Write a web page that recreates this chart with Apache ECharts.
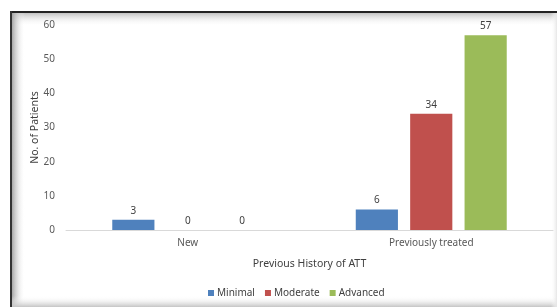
<!DOCTYPE html>
<html><head><meta charset="utf-8">
<script src="https://cdn.jsdelivr.net/npm/echarts@6/dist/echarts.min.js"></script>
<style>html,body{margin:0;padding:0;background:#fff}#c{width:557px;height:307px}</style>
</head><body><div id="c"></div>
<script>
const categories = ['New', 'Previously treated'];
const minimal = [3, 6];
const moderate = [0, 34];
const advanced = [0, 57];
const seriesNames = ['Minimal', 'Moderate', 'Advanced'];
const yTicks = [0, 10, 20, 30, 40, 50, 60];

const chart = echarts.init(document.getElementById('c'), null, {renderer: 'canvas'});
const font = 'Noto Sans';
const lbl = {show: true, position: 'top', color: '#404040', fontSize: 10, fontFamily: font, distance: 4};
function mk(name, data, color) {
  return {name, type: 'bar', data, itemStyle: {color}, label: lbl, barGap: '29%', barCategoryGap: '38%'};
}
chart.setOption({
  animation: false,
  textStyle: {fontFamily: font},
  grid: {left: 66, right: 4, top: 25, bottom: 77, containLabel: false},
  xAxis: {
    type: 'category', data: categories,
    axisLine: {lineStyle: {color: '#D9D9D9'}}, axisTick: {show: false},
    axisLabel: {color: '#595959', fontSize: 10, fontFamily: font, margin: 8},
    name: 'Previous History of ATT', nameLocation: 'middle', nameGap: 29, nameMoveOverlap: false,
    nameTextStyle: {color: '#404040', fontSize: 10.5, fontFamily: font}
  },
  yAxis: {
    type: 'value', min: yTicks[0], max: yTicks[yTicks.length - 1], interval: 10,
    splitLine: {show: false}, axisLine: {show: false}, axisTick: {show: false},
    axisLabel: {color: '#595959', fontSize: 10, fontFamily: font, margin: 11},
    name: 'No. of Patients', nameLocation: 'middle', nameGap: 25, nameRotate: 90, nameMoveOverlap: false,
    nameTextStyle: {color: '#404040', fontSize: 10.5, fontFamily: font}
  },
  legend: {
    data: seriesNames, bottom: 4, left: 203, itemWidth: 6, itemHeight: 6, itemGap: 10,
    icon: 'rect', textStyle: {color: '#404040', fontSize: 10, fontFamily: font, padding: [0, 0, 0, -2]}
  },
  series: [mk(seriesNames[0], minimal, '#4F81BD'), mk(seriesNames[1], moderate, '#C0504D'), mk(seriesNames[2], advanced, '#9BBB59')],
  graphic: [
    {type: 'rect', z: -1, shape: {x: 11, y: 12, width: 546, height: 14},
     style: {fill: new echarts.graphic.LinearGradient(0, 0, 0, 1, [{offset: 0, color: '#b8b8b8'}, {offset: 1, color: 'rgba(255,255,255,0)'}])}},
    {type: 'rect', z: -1, shape: {x: 11, y: 12, width: 14, height: 295},
     style: {fill: new echarts.graphic.LinearGradient(0, 0, 1, 0, [{offset: 0, color: '#999'}, {offset: 1, color: 'rgba(255,255,255,0)'}])}},
    {type: 'rect', z: -1, shape: {x: 11, y: 296, width: 546, height: 11},
     style: {fill: new echarts.graphic.LinearGradient(0, 0, 0, 1, [{offset: 0, color: 'rgba(255,255,255,0)'}, {offset: 1, color: '#c4c4c4'}])}},
    {type: 'rect', z: -1, shape: {x: 551, y: 12, width: 6, height: 295},
     style: {fill: new echarts.graphic.LinearGradient(0, 0, 1, 0, [{offset: 0, color: 'rgba(255,255,255,0)'}, {offset: 1, color: '#e6e6e6'}])}},
    {type: 'rect', z: 10, shape: {x: 10, y: 11, width: 547, height: 2}, style: {fill: '#222'}},
    {type: 'rect', z: 10, shape: {x: 10, y: 11, width: 2, height: 296}, style: {fill: '#333'}}
  ]
});
</script></body></html>
